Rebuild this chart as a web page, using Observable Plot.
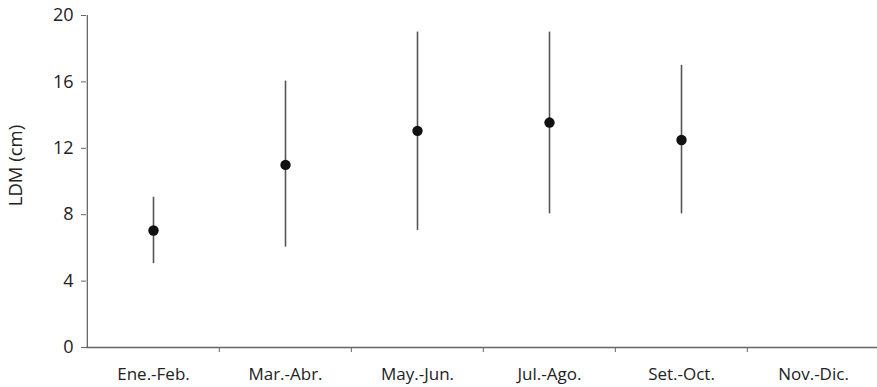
<!DOCTYPE html>
<html>
<head>
<meta charset="utf-8">
<script src="https://cdn.jsdelivr.net/npm/d3@7"></script>
<script src="https://cdn.jsdelivr.net/npm/@observablehq/plot@0.6"></script>
<style>
  html, body { margin: 0; padding: 0; background: #fff; }
  #chart { width: 877px; height: 387px; }
</style>
</head>
<body>
<div id="chart"></div>
<script>
// Data
const periods = ["Ene.-Feb.", "Mar.-Abr.", "May.-Jun.", "Jul.-Ago.", "Set.-Oct.", "Nov.-Dic."];
const meanLDM = [7.05, 11.0, 13.05, 13.55, 12.5, null];
const minLDM  = [5.05, 6.05, 7.05, 8.05, 8.05, null];
const maxLDM  = [9.05, 16.05, 19.0, 19.0, 17.0, null];
const yTicks = [0, 4, 8, 12, 16, 20];
const yLabel = "LDM (cm)";

const rows = periods.map((p, i) => ({period: p, mean: meanLDM[i], lo: minLDM[i], hi: maxLDM[i]}))
  .filter(d => d.mean != null);

const W = 877, H = 387;
const mL = 86, mT = 15, mB = 40, mR = 0;
const xRange = [mL, W + 3];
const bw = (xRange[1] - xRange[0]) / periods.length;
const axisColor = "#666";

const chart = Plot.plot({
  width: W,
  height: H,
  marginLeft: mL,
  marginRight: mR,
  marginTop: mT,
  marginBottom: mB,
  style: {fontFamily: "'Open Sans', sans-serif", fontSize: "17px", color: "#222", background: "#fff"},
  x: {type: "band", domain: periods, range: xRange, padding: 0},
  y: {domain: [0, 20]},
  marks: [
    // x-axis labels
    Plot.axisX({ticks: periods, tickSize: 0, tickPadding: 20, fontSize: 17, fill: "#222", label: null}),
    // x-axis tick marks at band boundaries
    Plot.axisX({ticks: periods.slice(1), tickSize: 5, text: null, dx: -bw / 2, stroke: axisColor, label: null}),
    // y-axis
    Plot.axisY({ticks: yTicks, tickSize: 5, tickPadding: 8, fontSize: 18, fill: "#222", stroke: axisColor,
      label: null}),
    Plot.text([yLabel], {frameAnchor: "left", textAnchor: "middle", dx: -70, dy: -16, rotate: -90,
      fontSize: 18.5, fill: "#222"}),
    // axis lines
    Plot.ruleY([0], {stroke: axisColor, strokeWidth: 1.3}),
    Plot.ruleX([periods[0]], {dx: -bw / 2, y1: 0, y2: 20, stroke: axisColor, strokeWidth: 1.3}),
    // range lines
    Plot.ruleX(rows, {x: "period", y1: "lo", y2: "hi", stroke: "#555", strokeWidth: 1.6}),
    // means
    Plot.dot(rows, {x: "period", y: "mean", r: 5.2, fill: "#111", stroke: "none"})
  ]
});
document.getElementById("chart").appendChild(chart);
</script>
</body>
</html>
